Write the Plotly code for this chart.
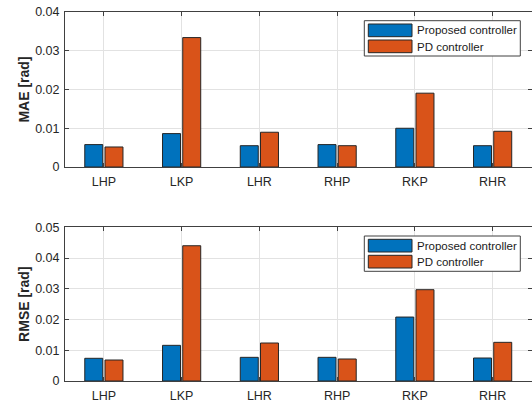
import plotly.graph_objects as go

joints = ["LHP", "LKP", "LHR", "RHP", "RKP", "RHR"]
mae_proposed = [0.00578, 0.00862, 0.0055, 0.00578, 0.0100, 0.0055]
mae_pd = [0.00517, 0.0334, 0.00897, 0.0055, 0.01905, 0.00922]
rmse_proposed = [0.00738, 0.0116, 0.0077, 0.0077, 0.0208, 0.00748]
rmse_pd = [0.00683, 0.0440, 0.01236, 0.00716, 0.0297, 0.01258]
series_names = ["Proposed controller", "PD controller"]
colors = ["#0072BD", "#D95319"]

W, H = 532, 405
FONT = "Liberation Sans, Arial, Helvetica, sans-serif"
AXC = "#404040"
GRID = "#e2e2e2"
EDGE = "#262626"

fig = go.Figure()

def add_bars(vals_a, vals_b, xa, ya):
    for vals, name, col in zip([vals_a, vals_b], series_names, colors):
        fig.add_trace(go.Bar(
            x=joints, y=vals, name=name, xaxis=xa, yaxis=ya,
            marker=dict(color=col, line=dict(color=EDGE, width=1)),
            showlegend=False,
        ))

add_bars(mae_proposed, mae_pd, "x", "y")
add_bars(rmse_proposed, rmse_pd, "x2", "y2")

xdom = [65 / W, 531.5 / W]
top1, bot1 = 12, 167
top2, bot2 = 227.3, 381

common_x = dict(
    type="category", range=[-0.5, 5.5], showline=True, linecolor=AXC, linewidth=1,
    mirror="ticks", ticks="inside", ticklen=4, tickcolor=AXC,
    showgrid=True, gridcolor=GRID, gridwidth=1, automargin=False,
    tickfont=dict(family=FONT, size=12.5, color="#262626"), ticklabelstandoff=3,
)
common_y = dict(
    showline=True, linecolor=AXC, linewidth=1, mirror="ticks",
    ticks="inside", ticklen=4, tickcolor=AXC, automargin=False,
    showgrid=True, gridcolor=GRID, gridwidth=1, zeroline=False,
    tickfont=dict(family=FONT, size=12.5, color="#262626"),
    dtick=0.01, tick0=0, ticklabelstandoff=2,
)

# custom MATLAB-style legends (layout decoration, pixel geometry relative to panel top)
shapes = []
annotations = []
def px(x):
    return x / W
def py(y):
    return 1 - y / H

for ptop in (top1, top2):
    off = ptop - top1
    shapes.append(dict(type="rect", xref="paper", yref="paper",
                       x0=px(364.3), x1=px(520.3), y0=py(20.7 + off), y1=py(56 + off),
                       fillcolor="white", line=dict(color="#404040", width=1), layer="above"))
    for i, (name, col) in enumerate(zip(series_names, colors)):
        sy0 = 24 + 16 * i + off
        shapes.append(dict(type="rect", xref="paper", yref="paper",
                           x0=px(368.3), x1=px(412), y0=py(sy0), y1=py(sy0 + 12.7),
                           fillcolor=col, line=dict(color=EDGE, width=1), layer="above"))
        annotations.append(dict(xref="paper", yref="paper", x=px(414.5), y=py(sy0 + 6.5),
                                xanchor="left", yanchor="middle", showarrow=False,
                                text=name, font=dict(family=FONT, size=11.5, color="#1a1a1a")))

fig.update_layout(
    width=W, height=H,
    margin=dict(l=0, r=0, t=0, b=0, autoexpand=False),
    paper_bgcolor="white", plot_bgcolor="white",
    barmode="group", bargap=0.48, bargroupgap=0.11,
    font=dict(family=FONT, color="#262626"),
    showlegend=False,
    xaxis=dict(domain=xdom, anchor="y", **common_x),
    yaxis=dict(domain=[1 - bot1 / H, 1 - top1 / H], anchor="x", range=[0, 0.04],
               title=dict(text="<b>MAE [rad]</b>", font=dict(family=FONT, size=14, color="#262626"), standoff=2),
               **common_y),
    xaxis2=dict(domain=xdom, anchor="y2", **common_x),
    yaxis2=dict(domain=[1 - bot2 / H, 1 - top2 / H], anchor="x2", range=[0, 0.05],
                title=dict(text="<b>RMSE [rad]</b>", font=dict(family=FONT, size=14, color="#262626"), standoff=2),
                **common_y),
    shapes=shapes,
    annotations=annotations,
)

fig.write_html("out.html", config={"displayModeBar": False},
               post_script="document.body.style.margin='0';document.body.style.overflow='hidden';")
